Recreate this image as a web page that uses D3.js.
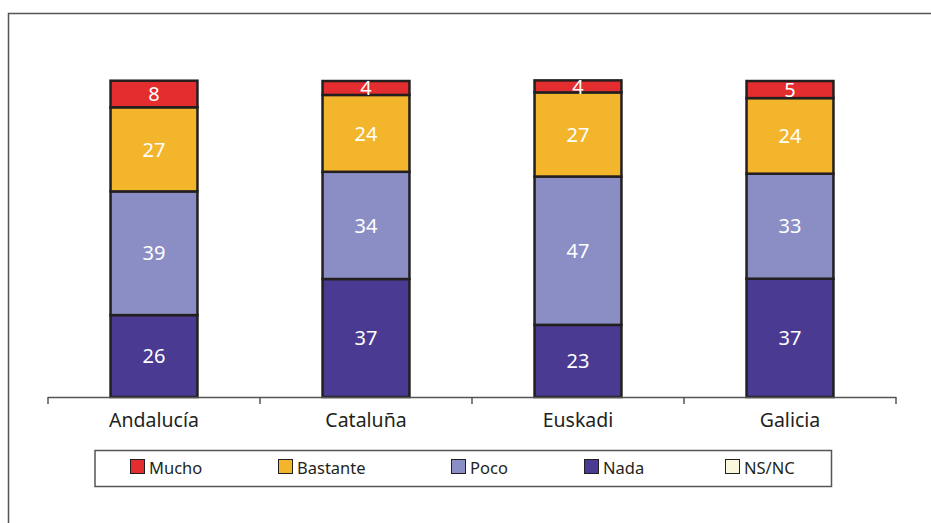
<!DOCTYPE html>
<html><head><meta charset="utf-8">
<script src="https://cdn.jsdelivr.net/npm/d3@7/dist/d3.min.js"></script>
<style>body{margin:0;background:#fff}svg{display:block}</style>
</head><body>
<svg id="c" width="931" height="523"></svg>
<script>
const categories = ["Andalucía", "Cataluña", "Euskadi", "Galicia"];
const seriesNames = ["Nada", "Poco", "Bastante", "Mucho", "NS/NC"];
const nada = [25.9, 37.3, 22.8, 37.4];
const poco = [39.1, 33.9, 46.9, 33.2];
const bastante = [26.6, 24.3, 26.6, 23.9];
const mucho = [8.4, 4.4, 3.8, 5.4];
const nsnc = [0, 0, 0, 0];
const legendOrder = ["Mucho", "Bastante", "Poco", "Nada", "NS/NC"];

const colors = {"Mucho":"#E42D2E","Bastante":"#F2B52C","Poco":"#8B8EC4","Nada":"#4B3A92","NS/NC":"#FAF8DC"};
const FONT = "'Noto Sans', 'DejaVu Sans', sans-serif";

const rows = categories.map((c,i)=>({cat:c, "Nada":nada[i], "Poco":poco[i], "Bastante":bastante[i], "Mucho":mucho[i], "NS/NC":nsnc[i]}));
const stack = d3.stack().keys(seriesNames)(rows);

const svg = d3.select("#c");
// outer frame
svg.append("path").attr("d","M8.5,523 L8.5,13.5 L931,13.5").attr("fill","none").attr("stroke","#555").attr("stroke-width",1.5);

const x = d3.scaleBand().domain(categories).range([48, 896]).paddingInner(0.59).paddingOuter(0.295);
const y = d3.scaleLinear().domain([0, 100]).range([397, 80.7]);

const g = svg.append("g");
stack.forEach(layer=>{
  const key = layer.key;
  layer.forEach((d,i)=>{
    const v = d[1]-d[0];
    if (v <= 0) return;
    g.append("rect")
      .attr("x", x(categories[i]))
      .attr("y", y(d[1]))
      .attr("width", x.bandwidth())
      .attr("height", y(d[0]) - y(d[1]))
      .attr("fill", colors[key])
      .attr("stroke", "#231F20")
      .attr("stroke-width", 2.5);
  });
});
// labels
stack.forEach(layer=>{
  layer.forEach((d,i)=>{
    const v = d[1]-d[0];
    if (v <= 0) return;
    g.append("text")
      .attr("x", x(categories[i]) + x.bandwidth()/2)
      .attr("y", (y(d[0]) + y(d[1]))/2)
      .attr("dy", "0.36em")
      .attr("text-anchor","middle")
      .attr("fill","#fff")
      .attr("font-family", FONT)
      .attr("font-size", 20)
      .text(Math.round(v));
  });
});

// axis
const axisG = svg.append("g").attr("transform","translate(0,397)");
axisG.append("line").attr("x1",48).attr("x2",896).attr("y1",0.5).attr("y2",0.5).attr("stroke","#555").attr("stroke-width",1.5);
const step = x.step();
const bounds = categories.map(c=>x(c) - (step - x.bandwidth())/2).concat([x(categories[categories.length-1]) + x.bandwidth() + (step - x.bandwidth())/2]);
bounds.forEach(b=>{
  axisG.append("line").attr("x1",b).attr("x2",b).attr("y1",0).attr("y2",7).attr("stroke","#555").attr("stroke-width",1.5);
});
const ax = d3.axisBottom(x).tickSize(0).tickPadding(0);
const axLab = svg.append("g").attr("transform","translate(0,427)").call(ax);
axLab.select(".domain").remove();
axLab.selectAll("text").attr("font-family",FONT).attr("font-size",19.5).attr("fill","#231F20").attr("dy","0");

// legend
const legX = [130, 278, 451, 584, 725];
svg.append("rect").attr("x",95).attr("y",450.5).attr("width",736.5).attr("height",36).attr("fill","#fff").attr("stroke","#555").attr("stroke-width",1.5);
legendOrder.forEach((k,i)=>{
  svg.append("rect").attr("x",legX[i]+0.5).attr("y",459.5).attr("width",14).attr("height",14)
    .attr("fill",colors[k]).attr("stroke","#231F20").attr("stroke-width",1);
  svg.append("text").attr("x",legX[i]+19).attr("y",474).attr("font-family",FONT).attr("font-size",16.5)
    .attr("fill","#231F20").text(k);
});
</script>
</body></html>
